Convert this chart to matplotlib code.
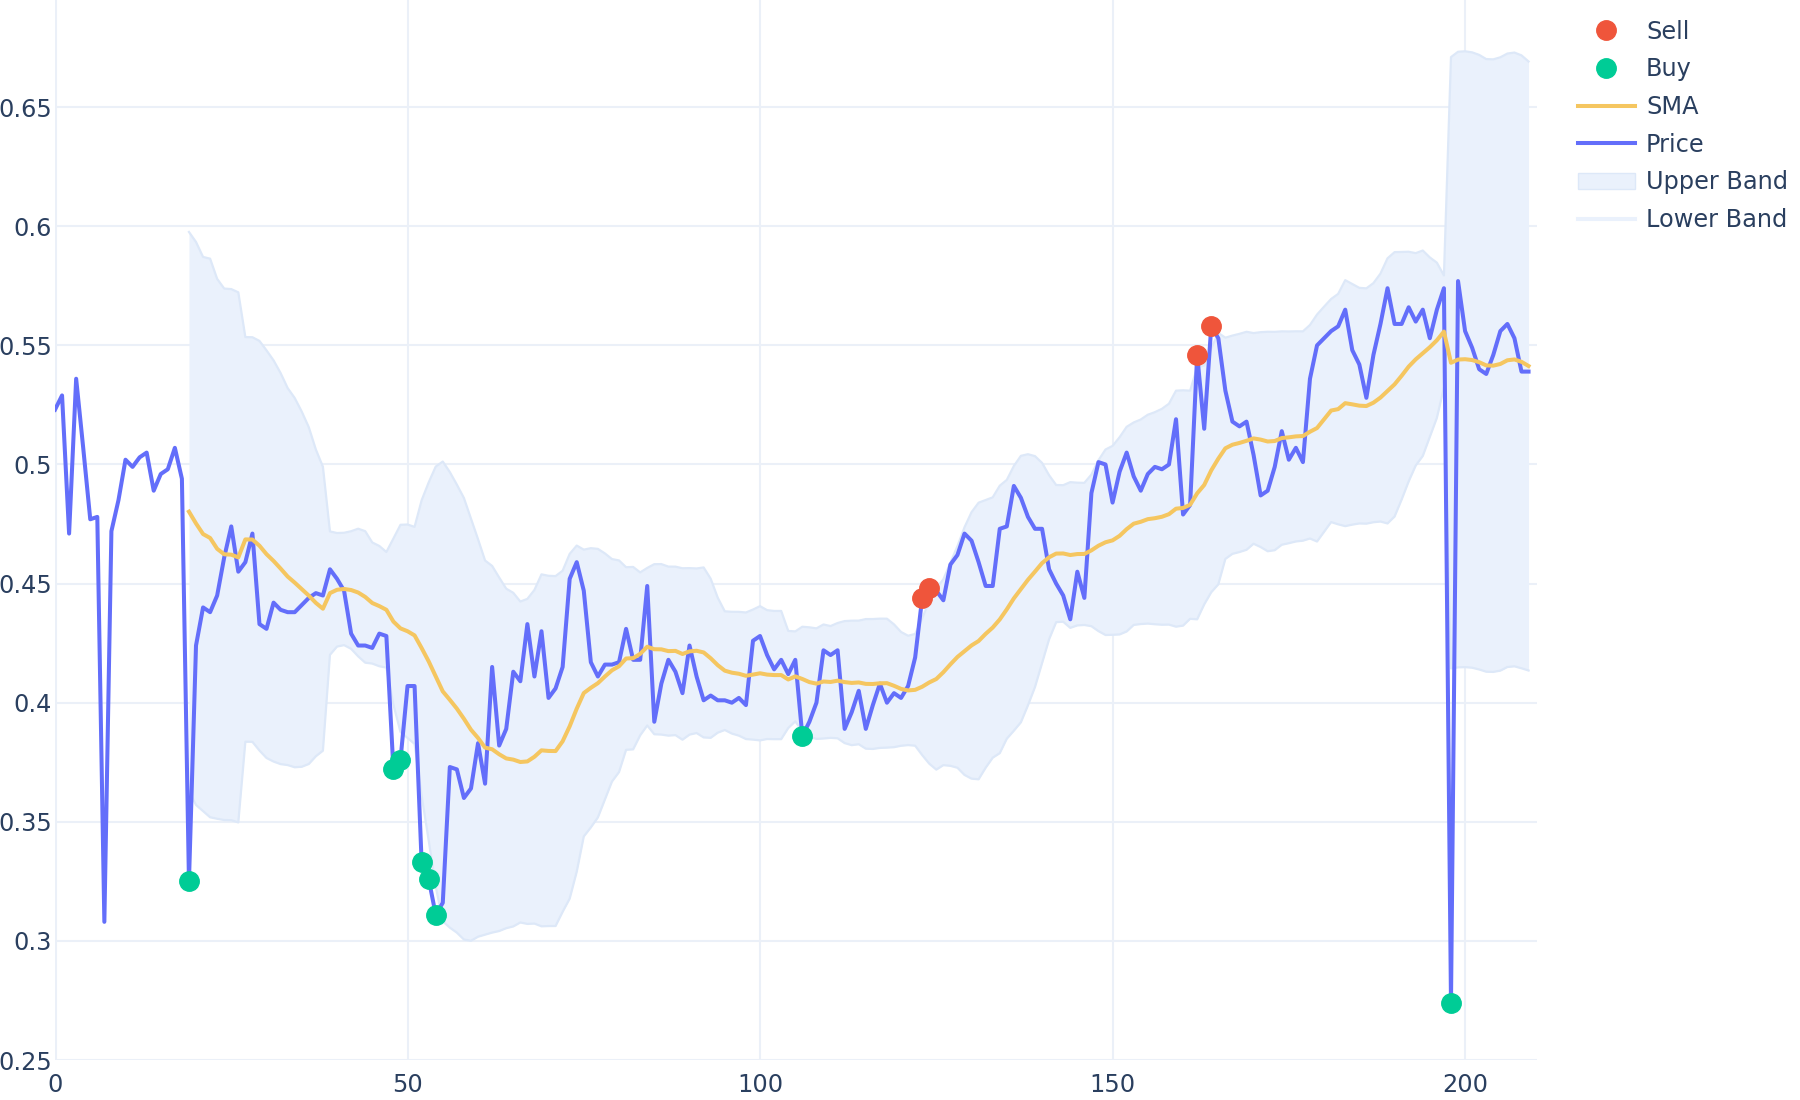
import numpy as np
import pandas as pd
import matplotlib
matplotlib.use("Agg")
import matplotlib.pyplot as plt
from matplotlib.lines import Line2D
from matplotlib.patches import Patch

# price, one value per step (0..209)
price = [
    0.523, 0.529, 0.471, 0.536, 0.507, 0.477, 0.478, 0.308, 0.472, 0.485,
    0.502, 0.499, 0.503, 0.505, 0.489, 0.496, 0.498, 0.507, 0.494, 0.325,
    0.424, 0.440, 0.438, 0.445, 0.461, 0.474, 0.455, 0.459, 0.471, 0.433,
    0.431, 0.442, 0.439, 0.438, 0.438, 0.441, 0.444, 0.446, 0.445, 0.456,
    0.452, 0.447, 0.429, 0.424, 0.424, 0.423, 0.429, 0.428, 0.372, 0.376,
    0.407, 0.407, 0.333, 0.326, 0.311, 0.316, 0.373, 0.372, 0.360, 0.364,
    0.383, 0.366, 0.415, 0.382, 0.389, 0.413, 0.409, 0.433, 0.411, 0.430,
    0.402, 0.406, 0.415, 0.452, 0.459, 0.447, 0.417, 0.411, 0.416, 0.416,
    0.417, 0.431, 0.418, 0.418, 0.449, 0.392, 0.408, 0.418, 0.413, 0.404,
    0.424, 0.411, 0.401, 0.403, 0.401, 0.401, 0.400, 0.402, 0.399, 0.426,
    0.428, 0.420, 0.414, 0.418, 0.412, 0.418, 0.386, 0.392, 0.400, 0.422,
    0.420, 0.422, 0.389, 0.396, 0.405, 0.389, 0.399, 0.408, 0.400, 0.404,
    0.402, 0.407, 0.419, 0.444, 0.448, 0.447, 0.443, 0.458, 0.462, 0.471,
    0.468, 0.459, 0.449, 0.449, 0.473, 0.474, 0.491, 0.486, 0.478, 0.473,
    0.473, 0.456, 0.450, 0.445, 0.435, 0.455, 0.444, 0.488, 0.501, 0.500,
    0.484, 0.497, 0.505, 0.495, 0.489, 0.496, 0.499, 0.498, 0.500, 0.519,
    0.479, 0.483, 0.546, 0.515, 0.558, 0.553, 0.531, 0.518, 0.516, 0.518,
    0.504, 0.487, 0.489, 0.499, 0.514, 0.502, 0.507, 0.501, 0.536, 0.550,
    0.553, 0.556, 0.558, 0.565, 0.548, 0.542, 0.528, 0.546, 0.559, 0.574,
    0.559, 0.559, 0.566, 0.560, 0.565, 0.553, 0.565, 0.574, 0.274, 0.577,
    0.556, 0.549, 0.540, 0.538, 0.546, 0.556, 0.559, 0.553, 0.539, 0.539,
]
buy_idx = [19, 48, 49, 52, 53, 54, 106, 198]
sell_idx = [123, 124, 162, 164]
window = 20  # bollinger window used by the chart

x = np.arange(len(price))
s = pd.Series(price)
sma = s.rolling(window).mean()
sd = s.rolling(window).std()
upper = sma + 2 * sd
lower = sma - 2 * sd

txt = "#2a3f5f"
grid = "#EBF0F8"
band_fill = "#EAF1FC"
band_edge = "#DDE8F8"

plt.rcParams['font.family'] = ['DejaVu Sans']

fig = plt.figure(figsize=(18, 11), dpi=100)
ax = fig.add_axes([55 / 1800, 1 - 1060 / 1100, (1537 - 55) / 1800, 1060 / 1100])

ax.fill_between(x, lower, upper, color=band_fill, lw=0, zorder=1)
ax.plot(x, upper, color=band_edge, lw=1.6, zorder=1.5)
ax.plot(x, lower, color=band_edge, lw=1.6, zorder=1.5)
ax.plot(x, price, color="#636EFA", lw=2.9, zorder=3)
ax.plot(x, sma, color="#F5C660", lw=2.9, zorder=4)
ax.plot(buy_idx, [price[i] for i in buy_idx], 'o', ms=14, color="#00CC96", zorder=5)
ax.plot(sell_idx, [price[i] for i in sell_idx], 'o', ms=14, color="#EF553B", zorder=5)

ax.set_xlim(0, 210.2)
ax.set_ylim(0.25, 0.695)
yt = np.arange(0.25, 0.651, 0.05)
ax.set_yticks(yt)
ax.set_yticklabels([f"{round(v, 2):g}" for v in yt])
ax.set_xticks([0, 50, 100, 150, 200])
ax.tick_params(length=0, labelsize=17.3, colors=txt)
ax.tick_params(axis='y', pad=2)
ax.tick_params(axis='x', pad=9)
for sp in ax.spines.values():
    sp.set_visible(False)
ax.grid(True, color=grid, lw=1.5, zorder=0)
ax.set_axisbelow(True)
ax.axvline(0, color=grid, lw=2.9, zorder=0.5)

handles = [
    Line2D([], [], marker='o', ls='none', ms=14, color="#EF553B"),
    Line2D([], [], marker='o', ls='none', ms=14, color="#00CC96"),
    Line2D([], [], color="#F5C660", lw=2.9),
    Line2D([], [], color="#636EFA", lw=2.9),
    Patch(facecolor=band_fill, edgecolor=band_edge),
    Line2D([], [], color=band_fill, lw=2.9),
]
labels = ["Sell", "Buy", "SMA", "Price", "Upper Band", "Lower Band"]
fig.legend(handles, labels, loc='upper left', bbox_to_anchor=(1568 / 1800, 1 - 10 / 1100),
           frameon=False, fontsize=17.3, labelcolor=txt, handlelength=2.4,
           handletextpad=0.45, labelspacing=0.57, borderaxespad=0)

fig.savefig("out.png", dpi=100)
